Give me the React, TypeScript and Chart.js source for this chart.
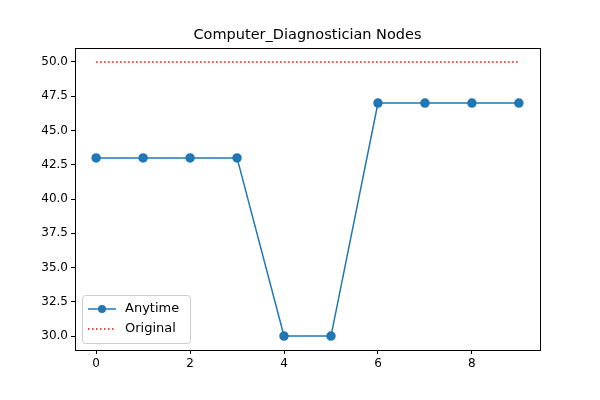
import React, { useEffect, useRef } from 'react';
import Chart from 'chart.js/auto';

const steps = [0, 1, 2, 3, 4, 5, 6, 7, 8, 9];
const anytime = [43, 43, 43, 43, 30, 30, 47, 47, 47, 47];
const original = [50, 50, 50, 50, 50, 50, 50, 50, 50, 50];
const xTicks = [0, 2, 4, 6, 8];
const yTicks = [30, 32.5, 35, 37.5, 40, 42.5, 45, 47.5, 50];
const title = 'Computer_Diagnostician Nodes';

const frameAndLegend = {
  id: 'frameAndLegend',
  afterDraw(chart: any) {
    const { ctx, chartArea } = chart;
    ctx.save();
    ctx.strokeStyle = '#000';
    ctx.lineWidth = 1;
    ctx.strokeRect(Math.round(chartArea.left) + 0.5, Math.round(chartArea.top) + 0.5,
      Math.round(chartArea.right - chartArea.left), Math.round(chartArea.bottom - chartArea.top));
    ctx.fillStyle = '#000';
    ctx.font = '14.5px "DejaVu Sans"';
    ctx.textAlign = 'center';
    ctx.textBaseline = 'middle';
    ctx.fillText(title, (chartArea.left + chartArea.right) / 2, 35);
    ctx.textAlign = 'left';

    const x = chartArea.left + 7, y = chartArea.bottom - 55, w = 108, h = 48;
    ctx.fillStyle = 'rgba(255,255,255,0.8)';
    ctx.strokeStyle = '#cccccc';
    ctx.beginPath();
    ctx.roundRect(x + 0.5, y + 0.5, w, h, 3);
    ctx.fill();
    ctx.stroke();
    ctx.font = '13px "DejaVu Sans"';
    const ds = chart.data.datasets;
    ctx.strokeStyle = '#1f77b4';
    ctx.lineWidth = 1.5;
    ctx.beginPath(); ctx.moveTo(x + 6, y + 14); ctx.lineTo(x + 34, y + 14); ctx.stroke();
    ctx.fillStyle = '#1f77b4';
    ctx.beginPath(); ctx.arc(x + 20, y + 14, 4, 0, Math.PI * 2); ctx.fill();
    ctx.fillStyle = '#000';
    ctx.fillText(ds[0].label, x + 43, y + 14);
    ctx.strokeStyle = 'red';
    ctx.setLineDash([1.5, 2.5]);
    ctx.beginPath(); ctx.moveTo(x + 6, y + 34); ctx.lineTo(x + 34, y + 34); ctx.stroke();
    ctx.setLineDash([]);
    ctx.fillText(ds[1].label, x + 43, y + 34);
    ctx.restore();
  },
};

export default function App() {
  const canvasRef = useRef<HTMLCanvasElement | null>(null);
  useEffect(() => {
    document.body.style.margin = '0';
    const chart = new Chart(canvasRef.current!, {
      type: 'line',
      data: {
        datasets: [
          {
            label: 'Anytime',
            data: steps.map((s, i) => ({ x: s, y: anytime[i] })),
            borderColor: '#1f77b4', backgroundColor: '#1f77b4',
            borderWidth: 1.5, pointRadius: 4, pointHoverRadius: 4,
          },
          {
            label: 'Original',
            data: steps.map((s, i) => ({ x: s, y: original[i] })),
            borderColor: 'red', borderWidth: 1.5, borderDash: [1.5, 2.5], pointRadius: 0,
          },
        ],
      },
      options: {
        animation: false, responsive: false,
        layout: { padding: { right: 60, left: 0, top: 48 } },
        plugins: {
          legend: { display: false },
          tooltip: { enabled: false },
          title: { display: false },
        },
        scales: {
          x: {
            type: 'linear', min: -0.45, max: 9.45,
            afterFit: (s: any) => { s.height = 50; },
            afterBuildTicks: (s: any) => { s.ticks = xTicks.map(v => ({ value: v })); },
            grid: { drawOnChartArea: false, tickLength: 4, color: '#000' },
            border: { color: '#000' },
            ticks: { color: '#000', padding: 3, font: { family: 'DejaVu Sans', size: 12 } },
          },
          y: {
            min: 28.98, max: 51.02,
            afterFit: (s: any) => { s.width = 75; },
            afterBuildTicks: (s: any) => { s.ticks = yTicks.map(v => ({ value: v })); },
            grid: { drawOnChartArea: false, tickLength: 4, color: '#000' },
            border: { color: '#000' },
            ticks: { color: '#000', padding: 3, font: { family: 'DejaVu Sans', size: 12 },
              callback: (v: any) => Number(v).toFixed(1) },
          },
        },
      },
      plugins: [frameAndLegend],
    });
    return () => chart.destroy();
  }, []);
  return <canvas ref={canvasRef} width={600} height={400} style={{ width: 600, height: 400 }} />;
}
